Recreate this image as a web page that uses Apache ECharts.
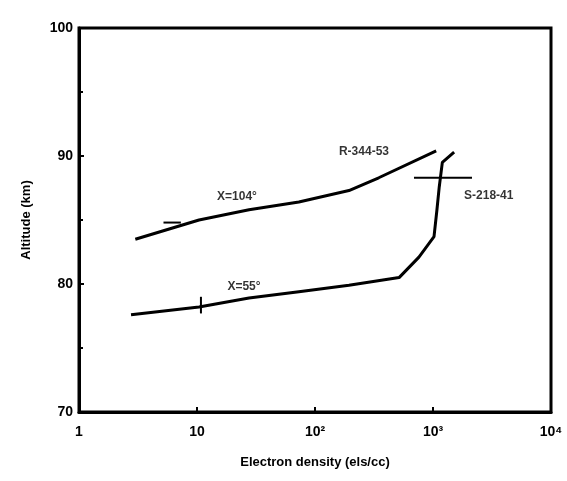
<!DOCTYPE html>
<html>
<head>
<meta charset="utf-8">
<script src="https://cdn.jsdelivr.net/npm/echarts@6/dist/echarts.min.js"></script>
<style>
  html, body { margin: 0; padding: 0; background: #fff; }
  #chart { width: 567px; height: 481px; }
</style>
</head>
<body>
<div id="chart"></div>
<script>
// x tick labels (log axis, decades)
const xTicks = [1, 10, 100, 1000, 10000];
const xTickLabels = ['1', '10', '10²', '10³', '10⁴'];

// X=104° profile (R-344-53)
const upperDensity = [3.0, 10.4, 27.6, 73, 194, 347, 1064];
const upperAlt = [83.5, 85.0, 85.8, 86.4, 87.3, 88.3, 90.4];

// X=55° profile (S-218-41)
const lowerDensity = [2.76, 10.4, 27.6, 73, 194, 516, 760, 1020, 1080, 1130, 1200, 1510];
const lowerAlt = [77.6, 78.2, 78.9, 79.4, 79.9, 80.5, 82.1, 83.7, 85.8, 87.6, 89.5, 90.3];

// small error bars
const errBars = [
  [[690, 88.3], [2140, 88.3]],
  [[10.8, 79.0], [10.8, 77.7]],
  [[5.2, 84.8], [7.3, 84.8]]
];

// curve labels
const labelText = ['R-344-53', 'S-218-41', 'X=104°', 'X=55°'];
const labelX = [260, 2970, 21.8, 25];
const labelY = [90.3, 86.9, 86.8, 79.8];

const zip = (xs, ys) => xs.map((x, i) => [x, ys[i]]);

const chart = echarts.init(document.getElementById('chart'));

const lineStyle = { color: '#000', width: 3 };
const font = { color: '#000', fontFamily: 'Liberation Sans', fontWeight: 'bold' };

const series = [
  {
    type: 'line', data: zip(upperDensity, upperAlt),
    symbol: 'none', lineStyle: lineStyle, silent: true
  },
  {
    type: 'line', data: zip(lowerDensity, lowerAlt),
    symbol: 'none', lineStyle: lineStyle, silent: true
  },
  {
    type: 'scatter',
    data: labelText.map((t, i) => ({ value: [labelX[i], labelY[i]], name: t })),
    symbolSize: 0,
    label: Object.assign({ show: true, position: 'inside', formatter: '{b}', fontSize: 12 }, font)
  }
];
errBars.forEach(b => series.push({
  type: 'line', data: b, symbol: 'none',
  lineStyle: { color: '#000', width: 2 }, silent: true
}));

chart.setOption({
  animation: false,
  grid: {
    left: 79, right: 16, top: 28, bottom: 69,
    show: true, borderColor: '#000', borderWidth: 3
  },
  xAxis: {
    type: 'log', logBase: 10, min: 1, max: 10000,
    name: 'Electron density (els/cc)',
    nameLocation: 'middle', nameGap: 44,
    nameTextStyle: Object.assign({ fontSize: 13 }, font),
    axisLine: { show: true, lineStyle: { color: '#000', width: 3 } },
    axisTick: { show: true, inside: true, length: 5, lineStyle: { color: '#000', width: 2 } },
    minorTick: { show: false },
    splitLine: { show: false },
    axisLabel: Object.assign({
      fontSize: 14, margin: 13,
      formatter: v => {
        const i = xTicks.findIndex(t => Math.abs(t - v) < 1e-6 * t);
        return i >= 0 ? xTickLabels[i] : '';
      }
    }, font)
  },
  yAxis: {
    type: 'value', min: 70, max: 100, interval: 10,
    name: 'Altitude (km)',
    nameLocation: 'middle', nameGap: 46,
    nameTextStyle: Object.assign({ fontSize: 13 }, font),
    axisLine: { show: true, lineStyle: { color: '#000', width: 3 } },
    axisTick: { show: true, inside: true, length: 5, lineStyle: { color: '#000', width: 2 } },
    minorTick: { show: true, splitNumber: 2, length: 4, lineStyle: { color: '#000', width: 2 } },
    splitLine: { show: false },
    axisLabel: Object.assign({ fontSize: 14, margin: 6 }, font)
  },
  series: series
});
</script>
</body>
</html>
